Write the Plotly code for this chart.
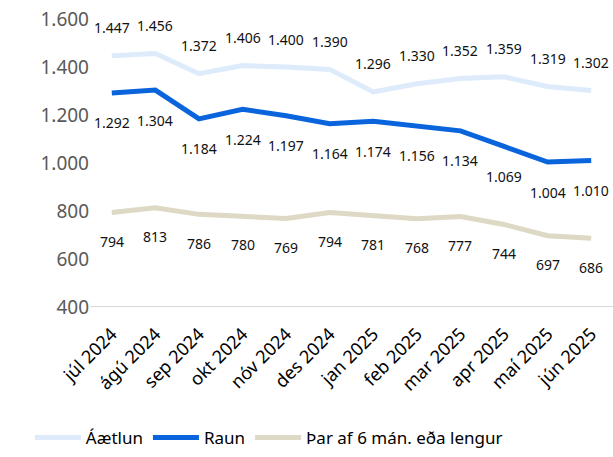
import plotly.graph_objects as go

months = ['júl 2024', 'ágú 2024', 'sep 2024', 'okt 2024', 'nóv 2024', 'des 2024',
          'jan 2025', 'feb 2025', 'mar 2025', 'apr 2025', 'maí 2025', 'jún 2025']
aaetlun = [1447, 1456, 1372, 1406, 1400, 1390, 1296, 1330, 1352, 1359, 1319, 1302]
raun = [1292, 1304, 1184, 1224, 1197, 1164, 1174, 1156, 1134, 1069, 1004, 1010]
sex_man = [794, 813, 786, 780, 769, 794, 781, 768, 777, 744, 697, 686]
y_ticks = [400, 600, 800, 1000, 1200, 1400, 1600]

FONT = 'Noto Sans'

fig = go.Figure()
series = [
    ('Áætlun', aaetlun, '#DDEBFB', 28),
    ('Raun', raun, '#0A64DC', -30),
    ('Þar af 6 mán. eða lengur', sex_man, '#DDD9C4', -29),
]
for name, vals, color, shift in series:
    fig.add_trace(go.Scatter(x=months, y=vals, name=name, mode='lines',
                             line=dict(color=color, width=5)))
    # data labels above or below the line
    for m, v in zip(months, vals):
        fig.add_annotation(x=m, y=v, text=f'{v:,}'.replace(',', '.'),
                           showarrow=False, yshift=shift,
                           font=dict(family=FONT, size=14, color='#111111'))

fig.update_xaxes(showgrid=False, tickangle=-45, ticks='', range=[-0.5, 11.5],
                 automargin=False, ticklabelstandoff=12,
                 tickfont=dict(family=FONT, size=18, color='#000000'))
fig.update_yaxes(range=[400, 1600], tickvals=y_ticks,
                 ticktext=[f'{t:,}'.replace(',', '.') for t in y_ticks],
                 showgrid=False, zeroline=False, showline=False, automargin=False,
                 tickfont=dict(family=FONT, size=19, color='#595959'))

# baseline at 400
fig.add_shape(type='line', xref='paper', yref='y', x0=0, x1=1, y0=400, y1=400,
              line=dict(color='#D9D9D9', width=2))

fig.update_layout(width=613, height=457,
                  margin=dict(l=90, r=0, t=19, b=150),
                  paper_bgcolor='white', plot_bgcolor='white',
                  showlegend=True,
                  legend=dict(orientation='h', x=-0.115, xanchor='left',
                              y=-0.455, yanchor='middle', itemwidth=46,
                              font=dict(family=FONT, size=17, color='#000000')))

# drop the default body margin so the figure fills the window exactly
fig.write_html('out.html', config={'displayModeBar': False},
               post_script="document.body.style.margin='0';")
